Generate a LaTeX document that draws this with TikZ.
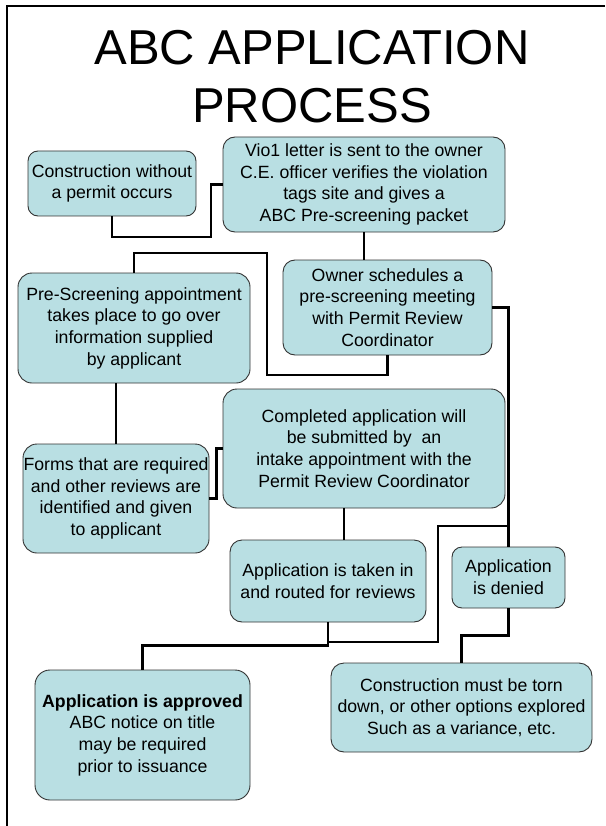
\documentclass[tikz,border=0pt]{standalone}
\usepackage{fontspec}
\setmainfont{Liberation Sans}
\definecolor{boxfill}{HTML}{B9DFE3}
\definecolor{boxline}{HTML}{333333}

\begin{document}
\begin{tikzpicture}[x=1pt, y=-1pt,
    stage/.style={draw=boxline, fill=boxfill, line width=0.9pt, rounded corners=12pt,
      align=center, inner sep=0pt, font=\fontsize{17.7}{21.7}\selectfont},
    link/.style={line width=2.6pt, black}]
  \useasboundingbox (0,0) rectangle (605,826);

  % Frame
  \draw[line width=2.4pt] (7,826) -- (7,6) -- (605,6);

  % Title
  \node[font=\fontsize{49}{58}\selectfont, align=center, anchor=base] (title) at (312,123)
    {ABC APPLICATION\\PROCESS};

  % Steps
  \node[stage, rounded corners=10pt, minimum width=168, minimum height=65] (permit) at (112,183.5)
    {Construction without\\a permit occurs};
  \node[stage, minimum width=282, minimum height=95] (vio) at (364,184.5)
    {Vio1 letter is sent to the owner\\C.E. officer verifies the violation\\tags site and gives a\\ABC Pre-screening packet};
  \node[stage, minimum width=209, minimum height=95] (owner) at (387.5,307.5)
    {Owner schedules a\\pre-screening meeting\\with Permit Review\\Coordinator};
  \node[stage, rounded corners=14pt, minimum width=232, minimum height=110] (prescreen) at (134,328)
    {Pre-Screening appointment\\takes place to go over\\information supplied\\by applicant};
  \node[stage, rounded corners=14pt, minimum width=282, minimum height=119] (complete) at (364,448.5)
    {Completed application will\\be submitted by\ \ an\\intake appointment with the\\Permit Review Coordinator};
  \node[stage, rounded corners=14pt, minimum width=186, minimum height=109] (forms) at (116,498.5)
    {Forms that are required\\and other reviews are\\identified and given\\to applicant};
  \node[stage, minimum width=196, minimum height=82] (taken) at (328,581)
    {Application is taken in\\and routed for reviews};
  \node[stage, rounded corners=10pt, minimum width=113, minimum height=61] (denied) at (508.5,577.5)
    {Application\\is denied};
  \node[stage, rounded corners=15pt, minimum width=215, minimum height=130] (approved) at (142.5,735)
    {\textbf{Application is approved}\\ABC notice on title\\may be required\\prior to issuance};
  \node[stage, rounded corners=13pt, minimum width=261, minimum height=89] (torn) at (461.5,707.5)
    {Construction must be torn\\down, or other options explored\\Such as a variance, etc.};

  % Connectors
  \draw[link] (permit.south) |- (211,237) |- (vio.west);
  \draw[link] (vio.south) -- (vio.south |- owner.north);
  \draw[link] (owner.south) |- (267,375) |- (prescreen.north |- 0,253) -- (prescreen.north);
  \draw[link] (forms.north |- prescreen.south) -- (forms.north);
  \draw[link] (forms.east) -- ++(7,0) |- (complete.west);
  \draw[link] ([xshift=-20pt]complete.south) -- ([xshift=16pt]taken.north);
  \draw[link] (owner.east) -| (denied.north);
  \draw[link] (denied.north |- 0,526) -| (438,642) -- (taken.south |- 0,642);
  \draw[link] (taken.south) -- ++(0,23) -| (approved.north);
  \draw[link] (denied.south) -- ++(0,27) -| (torn.north);
\end{tikzpicture}
\end{document}
